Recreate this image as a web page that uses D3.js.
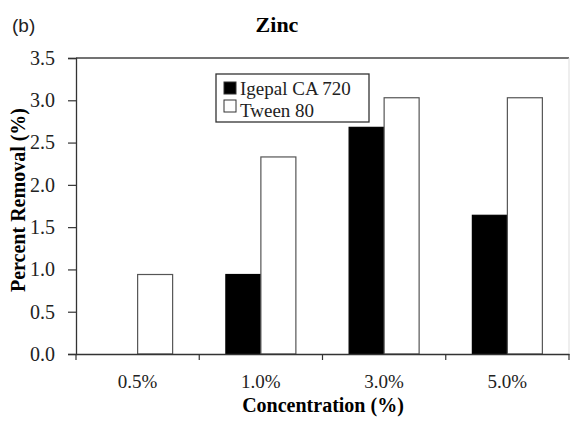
<!DOCTYPE html>
<html><head><meta charset="utf-8">
<script src="https://cdn.jsdelivr.net/npm/d3@7"></script>
<style>body{margin:0;background:#fff}svg{display:block}</style>
</head><body><svg id="c" width="570" height="423"></svg>
<script>
const categories = ["0.5%", "1.0%", "3.0%", "5.0%"];
const seriesNames = ["Igepal CA 720", "Tween 80"];
const igepal = [0, 0.94, 2.68, 1.64];
const tween = [0.94, 2.33, 3.03, 3.03];
const yTicks = [0, 0.5, 1.0, 1.5, 2.0, 2.5, 3.0, 3.5];

const svg = d3.select("#c");
const L = 76, R = 569, T = 58, B = 354;
const serif = "'Liberation Serif','Times New Roman',serif";

const x = d3.scaleBand().domain(categories).range([L, R]).padding(0);
const bw = 35;
const y = d3.scaleLinear().domain([0, 3.5]).range([B, T]);
const fills = ["#000", "#fff"];
const data = [igepal, tween];

// top border
svg.append("line").attr("x1", L).attr("x2", R).attr("y1", T).attr("y2", T)
  .attr("stroke", "#444").attr("stroke-width", 1.3);
svg.append("line").attr("x1", R).attr("x2", R).attr("y1", T).attr("y2", B)
  .attr("stroke", "#ddd").attr("stroke-width", 1);

// bars
data.forEach((vals, si) => {
  svg.append("g").selectAll("rect").data(categories.map((c, i) => ({c, v: vals[i]})))
    .join("rect")
    .filter(d => d.v > 0)
    .attr("x", d => x(d.c) + x.bandwidth() / 2 - bw + si * bw)
    .attr("y", d => y(d.v))
    .attr("width", bw)
    .attr("height", d => y(0) - y(d.v))
    .attr("fill", fills[si])
    .attr("stroke", si === 0 ? "#000" : "#555")
    .attr("stroke-width", 1.2);
});

// y axis
const ya = svg.append("g").attr("transform", `translate(${L},0)`)
  .call(d3.axisLeft(y).tickValues(yTicks).tickFormat(d3.format(".1f")).tickSizeOuter(0).tickSize(8).tickPadding(13));
ya.select(".domain").attr("stroke", "#333").attr("stroke-width", 1.3);
ya.selectAll(".tick line").attr("stroke", "#333").attr("stroke-width", 1.2);
ya.selectAll("text").attr("font-family", serif).attr("font-size", 20).attr("fill", "#222");

// x axis
const xa = svg.append("g").attr("transform", `translate(0,${B})`)
  .call(d3.axisBottom(x).tickSize(0).tickPadding(21));
xa.select(".domain").attr("stroke", "#333").attr("stroke-width", 1.3);
xa.selectAll("text").attr("font-family", serif).attr("font-size", 19).attr("fill", "#222");
// boundary ticks
const bounds = categories.map(c => x(c)).concat([R]);
svg.append("g").selectAll("line").data(bounds).join("line")
  .attr("x1", d => d).attr("x2", d => d).attr("y1", B).attr("y2", B + 6)
  .attr("stroke", "#333").attr("stroke-width", 1.2);

// titles
svg.append("text").attr("x", 277).attr("y", 32).attr("text-anchor", "middle")
  .attr("font-family", serif).attr("font-weight", "bold").attr("font-size", 22).text("Zinc");
svg.append("text").attr("x", 12).attr("y", 32)
  .attr("font-family", "'Liberation Sans',Arial,sans-serif").attr("font-size", 19).attr("fill", "#222").text("(b)");
svg.append("text").attr("x", 323).attr("y", 412).attr("text-anchor", "middle")
  .attr("font-family", serif).attr("font-weight", "bold").attr("font-size", 20).text("Concentration (%)");
svg.append("text").attr("transform", `translate(25,200) rotate(-90)`).attr("text-anchor", "middle")
  .attr("font-family", serif).attr("font-weight", "bold").attr("font-size", 20).text("Percent Removal (%)");

// legend
const lg = svg.append("g");
lg.append("rect").attr("x", 216).attr("y", 74).attr("width", 153).attr("height", 48)
  .attr("fill", "#fff").attr("stroke", "#333").attr("stroke-width", 1.3);
seriesNames.forEach((n, i) => {
  lg.append("rect").attr("x", 224).attr("y", 82 + i * 18).attr("width", 12).attr("height", 12)
    .attr("fill", fills[i]).attr("stroke", "#333").attr("stroke-width", 1);
  lg.append("text").attr("x", 240).attr("y", 95 + i * 22)
    .attr("font-family", serif).attr("font-size", 19).attr("fill", "#222").text(n);
});
</script></body></html>
